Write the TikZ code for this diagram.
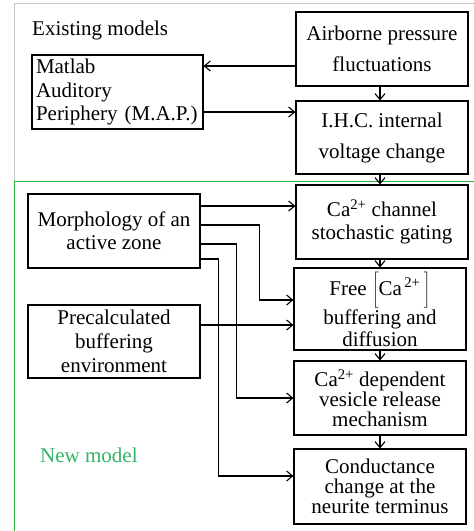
\documentclass[tikz,border=0pt]{standalone}
\usepackage{fontspec}
\setmainfont{Liberation Serif}
\usetikzlibrary{arrows.meta}
\definecolor{framegray}{RGB}{200,200,200}
\definecolor{framegreen}{RGB}{40,180,70}
\definecolor{textgreen}{RGB}{50,180,100}
\begin{document}
\begin{tikzpicture}[x=1pt,y=-1pt,
  box/.style={draw, line width=1.1pt, inner sep=0pt, minimum width=172pt, minimum height=74pt, align=center, font=\fontsize{21}{23}\selectfont},
  arr/.style={line width=1.1pt, -{Straight Barb[length=6pt,width=10pt,line width=1.1pt]}},
  lbl/.style={anchor=base west, inner sep=0pt, font=\fontsize{21}{23}\selectfont}]
\useasboundingbox (0,0) rectangle (474,531);
\draw[framegray, line width=0.9pt] (474,3) -- (14,3) -- (14,181);
\draw[framegreen, line width=0.9pt] (474,181) -- (14,181) -- (14,531);

\node[box, font=\fontsize{21}{31}\selectfont] (air) at (382,49) {Airborne pressure\\fluctuations};
\node[box, font=\fontsize{21}{31}\selectfont, minimum height=73pt] (ihc) at (382,137.5) {I.H.C. internal\\voltage change};
\node[box, minimum width=171pt, align=left, text width=163pt, inner xsep=4pt, font=\fontsize{21}{23.5}\selectfont] (map) at (117.5,92) {Matlab\\Auditory\\Periphery (M.A.P.)};
\node[box] (ca) at (382,222) {Ca\textsuperscript{2+} channel\\stochastic gating};
\node[box] (morph) at (114,231) {Morphology of an\\active zone};
\node[box, minimum height=82pt, font=\fontsize{21}{22}\selectfont] (free) at (380,309) {Free \(\left[\vrule height 24pt depth 13pt width 0pt\hbox{Ca\textsuperscript{\,2+}}\,\right]\)\\buffering and\\diffusion};
\node[box, minimum height=73pt, font=\fontsize{21}{24}\selectfont] (pre) at (114,341.5) {Precalculated\\buffering\\environment};
\node[box, font=\fontsize{21}{20}\selectfont] (dep) at (380,398) {Ca\textsuperscript{2+} dependent\\vesicle release\\mechanism};
\node[box, minimum height=75pt, font=\fontsize{21}{20}\selectfont] (cond) at (380,486.5) {Conductance\\change at the\\neurite terminus};

\node[lbl] (exist) at (32,35) {Existing models};
\node[lbl, text=textgreen] (new) at (40,462.5) {New model};

\draw[arr] ([yshift=-17pt]air.west) -- ([yshift=-17pt]air.west -| map.east);
\draw[arr] ([yshift=-20pt]map.east) -- ([yshift=-20pt]map.east -| ihc.west);
\draw[arr] (air.south -| free.north) -- (ihc.north -| free.north);
\draw[arr] (ihc.south -| free.north) -- (ca.north -| free.north);
\draw[arr] (ca.south -| free.north) -- (free.north);
\draw[arr] (free.south) -- (dep.north);
\draw[arr] (dep.south) -- (cond.north);

\draw[arr] ([yshift=25pt]morph.east) -- ([yshift=25pt]morph.east -| ca.west);
\draw[arr] ([yshift=6pt]morph.east) -- ++(59,0) |- ([yshift=9pt]free.west);
\draw[arr] ([yshift=-13pt]morph.east) -- ++(36,0) |- (dep.west);
\draw[arr] ([yshift=-28pt]morph.east) -- ++(18,0) |- ([yshift=10.5pt]cond.west);
\draw[arr] ([yshift=16.5pt]pre.east) -- ([yshift=16.5pt]pre.east -| free.west);
\end{tikzpicture}
\end{document}
